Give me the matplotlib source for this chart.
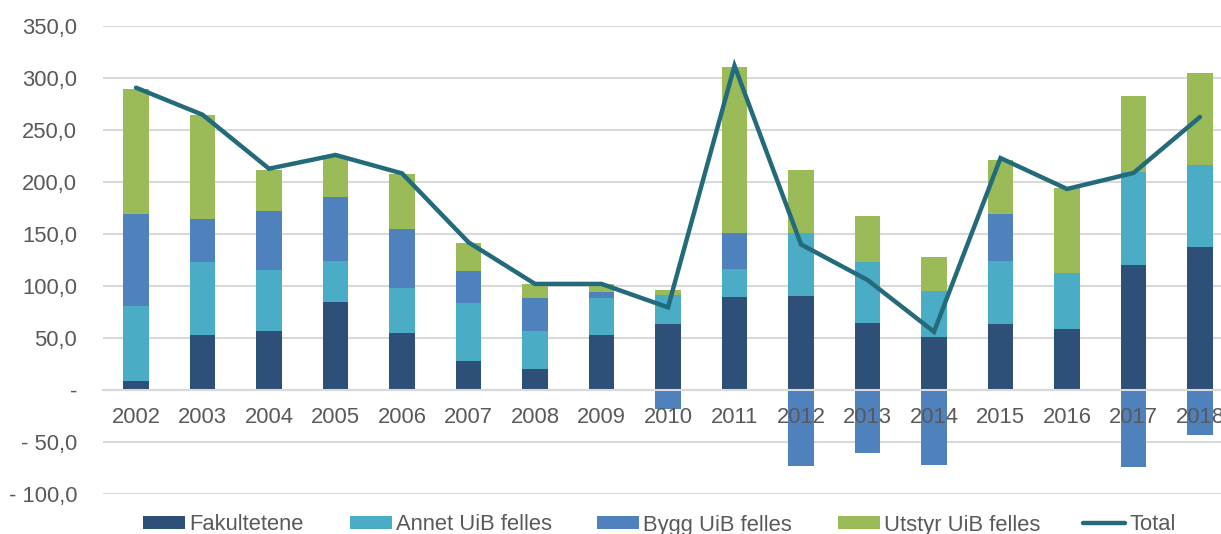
import matplotlib
matplotlib.use("Agg")
import matplotlib.pyplot as plt
from matplotlib.patches import Patch
from matplotlib.lines import Line2D
from matplotlib.ticker import FuncFormatter
import numpy as np

years = ["2002", "2003", "2004", "2005", "2006", "2007", "2008", "2009", "2010",
         "2011", "2012", "2013", "2014", "2015", "2016", "2017", "2018"]
fakultetene = [9, 52.6, 56.7, 84.3, 54.8, 27.9, 19.9, 52.6, 63.8, 89.1, 90.4, 64.4, 51.3, 63.8, 58.3, 119.9, 137.2]
annet = [71.5, 70.5, 58.7, 40.1, 43.6, 55.4, 36.8, 35.5, 27.5, 27.2, 60.6, 58.7, 44.2, 60.6, 54.2, 89.7, 78.8]
bygg = [88.4, 41.0, 56.7, 61.5, 56.7, 31.1, 31.4, 6.1, -18.0, 34.7, -72.8, -60.9, -71.8, 44.5, 0, -74.0, -43.0]
utstyr = [120.8, 100.6, 39.8, 38.5, 52.9, 26.9, 14.1, 8.0, 4.9, 159.6, 60.9, 43.9, 32.7, 52.6, 82.1, 73.1, 88.8]
total = [290.7, 264.7, 212.8, 226.0, 208.3, 142.0, 102.0, 102.0, 79.5, 311.8, 140.0, 105.8, 56.0, 223.0, 193.3, 208.7, 262.5]
yticks = [-100, -50, 0, 50, 100, 150, 200, 250, 300, 350]

series_names = ["Fakultetene", "Annet UiB felles", "Bygg UiB felles", "Utstyr UiB felles", "Total"]
c_fak = "#2E4F77"
c_ann = "#4BACC6"
c_byg = "#4F81BD"
c_uts = "#9BBB59"
c_tot = "#236B7B"
grey_txt = "#595959"
grid_c = "#D9D9D9"
fs = 15.8

plt.rcParams['font.family'] = ['Liberation Sans', 'DejaVu Sans']

W, H = 1221, 534
fig = plt.figure(figsize=(W / 100, H / 100), dpi=100)
left = 102.75 / W
width = 1130.5 / W
bottom = 40 / H
height = 468 / H
ax = fig.add_axes([left, bottom, width, height])

x = np.arange(len(years))
bw = 0.39
fak = np.array(fakultetene)
ann = np.array(annet)
byg = np.array(bygg)
uts = np.array(utstyr)

pos_byg = np.where(byg > 0, byg, 0)
neg_byg = np.where(byg < 0, byg, 0)

ax.bar(x, fak, bw, color=c_fak, zorder=2)
ax.bar(x, ann, bw, bottom=fak, color=c_ann, zorder=2)
ax.bar(x, pos_byg, bw, bottom=fak + ann, color=c_byg, zorder=2)
ax.bar(x, neg_byg, bw, bottom=0, color=c_byg, zorder=2)
ax.bar(x, uts, bw, bottom=fak + ann + pos_byg, color=c_uts, zorder=2)
ax.plot(x, total, color=c_tot, lw=3.2, zorder=3, solid_capstyle='round', solid_joinstyle='miter')

ax.set_xlim(-0.5, len(years) - 0.5)
ax.set_ylim(-100, 350)
ax.set_yticks(yticks)
for yv in yticks:
    ax.axhline(yv, color=grid_c, lw=1.5, zorder=0.5)

def fmt(v, pos):
    if abs(v) < 1e-9:
        return "-"
    if v < 0:
        return "- " + f"{abs(v):.1f}".replace(".", ",")
    return f"{v:.1f}".replace(".", ",")

ax.yaxis.set_major_formatter(FuncFormatter(fmt))
ax.set_xticks(x)
ax.set_xticklabels(years)
for s in ["top", "right", "left"]:
    ax.spines[s].set_visible(False)
ax.spines["bottom"].set_position(("data", 0))
ax.spines["bottom"].set_color(grid_c)
ax.spines["bottom"].set_linewidth(1.5)
ax.tick_params(axis="both", length=0, labelsize=fs, labelcolor=grey_txt)
ax.tick_params(axis="y", pad=18.5)
ax.tick_params(axis="x", pad=12.5)
ax.xaxis.set_zorder(5)

handles = [
    Patch(facecolor=c_fak),
    Patch(facecolor=c_ann),
    Patch(facecolor=c_byg),
    Patch(facecolor=c_uts),
    Line2D([0], [0], color=c_tot, lw=3.2, solid_capstyle='round'),
]
xs = [143, 350, 597, 838, 1083]
for h, name, xp in zip(handles, series_names, xs):
    leg = fig.legend(handles=[h], labels=[name], loc="center left",
                     bbox_to_anchor=(xp / W, 9 / H), frameon=False,
                     fontsize=fs, handlelength=1.9, handleheight=0.55,
                     handletextpad=0.2, borderpad=0, borderaxespad=0)
    for t in leg.get_texts():
        t.set_color(grey_txt)

fig.savefig("out.png", dpi=100)
